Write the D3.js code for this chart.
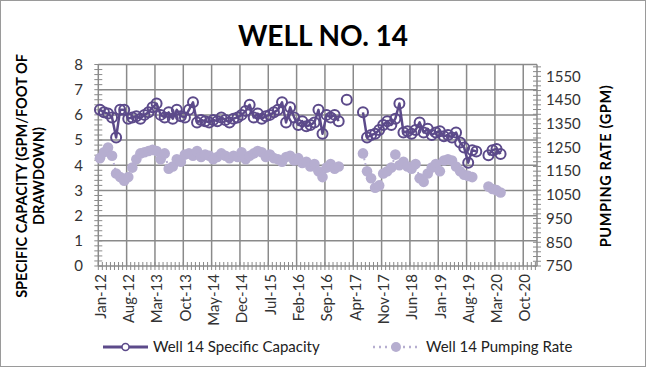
<!DOCTYPE html>
<html><head><meta charset="utf-8">
<script src="https://cdn.jsdelivr.net/npm/d3@7"></script>
<style>body{margin:0;background:#fff}svg{display:block}text{font-family:Lato,"Open Sans",sans-serif}</style>
</head><body><svg id="c" width="646" height="367"></svg>
<script>
// Month index (0 = Jan 2012) of each reading
const months = [0,1,2,3,4,5,6,7,8,9,10,11,12,13,14,15,16,17,18,19,20,21,22,23,24,25,26,27,28,29,30,31,32,33,34,35,36,37,38,39,40,41,42,43,44,45,46,47,48,49,50,51,52,53,54,55,56,57,58,59,60,61,62,63,64,65,66,67,68,69,70,71,72,73,74,75,76,77,78,79,80,81,82,83,84,85,86,87,88,89,90,91,92,93,94,95,96,97,98,99];
const specificCapacity = [6.2,6.1,6.05,5.9,5.1,6.2,6.2,5.85,5.9,5.95,5.85,6.0,6.1,6.3,6.45,6.0,5.9,6.1,5.85,6.2,5.95,5.9,6.2,6.5,5.7,5.8,5.75,5.7,5.8,5.75,5.9,5.8,5.7,5.85,5.9,6.0,6.15,6.4,5.9,6.05,5.85,5.95,6.0,6.1,6.2,6.5,5.7,6.3,5.9,5.6,5.75,5.55,5.6,5.7,6.2,5.25,6.0,5.9,6.0,5.75,null,6.6,null,null,null,6.1,5.1,5.2,5.25,5.4,5.6,5.75,5.6,5.85,6.45,5.3,5.35,5.25,5.4,5.7,5.3,5.45,5.2,5.3,5.35,5.15,5.2,5.1,5.3,4.9,4.7,4.1,4.6,4.55,null,null,4.4,4.6,4.65,4.45];
const pumpingRate = [1205,1230,1250,1215,1140,1125,1110,1125,1165,1200,1225,1230,1235,1240,1235,1200,1225,1160,1170,1200,1190,1220,1225,1215,1235,1210,1220,1215,1200,1210,1225,1215,1205,1215,1210,1230,1200,1215,1225,1235,1230,1210,1220,1205,1200,1190,1210,1215,1195,1205,1185,1190,1170,1180,1150,1125,1165,1180,1160,1170,null,null,null,null,null,1225,1150,1120,1080,1090,1140,1150,1165,1220,1175,1190,1170,1160,1180,1120,1105,1140,1165,1180,1150,1195,1200,1195,1170,1150,1135,1130,1125,null,null,null,1085,1075,1070,1060];
const xTickMonths = [0,7,14,21,28,35,42,49,56,63,70,77,84,91,98,105];
const xTickLabels = ["Jan-12","Aug-12","Mar-13","Oct-13","May-14","Dec-14","Jul-15","Feb-16","Sep-16","Apr-17","Nov-17","Jun-18","Jan-19","Aug-19","Mar-20","Oct-20"];
const leftTicks = [0,1,2,3,4,5,6,7,8];
const rightTicks = [750,850,950,1050,1150,1250,1350,1450,1550];

const dark = "#5c4a8a", light = "#b6aed0", grid = "#8a8a8a";
const svg = d3.select("#c");
const L = 98.3, R = 537, T = 64.5, B = 266;
const x = d3.scaleLinear().domain([0, 108.4]).range([L, R]);
const y = d3.scaleLinear().domain([0, 8]).range([B, T]);
const y2 = d3.scaleLinear().domain([750, 1600]).range([B, T]);

svg.append("rect").attr("x",0.5).attr("y",0.5).attr("width",645).attr("height",366).attr("fill","#fff").attr("stroke","#9a9a9a");

svg.append("text").attr("x",323).attr("y",46).attr("text-anchor","middle").attr("font-size",28).attr("font-weight",700).attr("fill","#000").text("WELL NO. 14");

// gridlines
const g = svg.append("g");
g.selectAll(".hg").data(leftTicks.slice(1)).join("line").attr("x1",L).attr("x2",R).attr("y1",d=>y(d)).attr("y2",d=>y(d)).attr("stroke",grid).attr("stroke-width",1.5);
g.selectAll(".vg").data(xTickMonths.slice(1)).join("line").attr("x1",d=>x(d)).attr("x2",d=>x(d)).attr("y1",T).attr("y2",B).attr("stroke",grid).attr("stroke-width",1.5);

// axes
const axC = svg.append("g");
axC.append("line").attr("x1",L).attr("x2",L).attr("y1",T).attr("y2",B).attr("stroke",grid).attr("stroke-width",1.5);
axC.append("line").attr("x1",R).attr("x2",R).attr("y1",T).attr("y2",B).attr("stroke",grid).attr("stroke-width",1.5);
axC.append("line").attr("x1",L).attr("x2",R).attr("y1",B).attr("y2",B).attr("stroke",grid).attr("stroke-width",1.5);
axC.selectAll(".lt").data(d3.range(0,41).map(i=>i*0.2)).join("line").attr("x1",L-4).attr("x2",L+4).attr("y1",d=>y(d)).attr("y2",d=>y(d)).attr("stroke",grid).attr("stroke-width",1);
axC.selectAll(".rt").data(d3.range(0,43).map(i=>750+i*20)).join("line").attr("x1",R-4).attr("x2",R+4).attr("y1",d=>y2(d)).attr("y2",d=>y2(d)).attr("stroke",grid).attr("stroke-width",1);
axC.selectAll(".bt").data(d3.range(0,109)).join("line").attr("x1",d=>x(d)).attr("x2",d=>x(d)).attr("y1",B-4).attr("y2",B+4).attr("stroke",grid).attr("stroke-width",1);

svg.selectAll(".ll").data(leftTicks).join("text").attr("x",83).attr("y",d=>y(d)).attr("dy","0.35em").attr("text-anchor","end").attr("font-size",15).attr("fill","#333").text(d=>d);
svg.selectAll(".rl").data(rightTicks).join("text").attr("x",546).attr("y",d=>y2(d)).attr("dy","0.35em").attr("text-anchor","start").attr("font-size",15).attr("fill","#333").text(d=>d);
svg.selectAll(".xl").data(xTickMonths).join("text").attr("transform",(d)=>`translate(${x(d)+2},274) rotate(-90)`).attr("dy","0.35em").attr("text-anchor","end").attr("font-size",15).attr("fill","#333").text((d,i)=>xTickLabels[i]);

// axis titles
const lt = svg.append("text").attr("transform","translate(0,176) rotate(-90)").attr("text-anchor","middle").attr("font-size",14.5).attr("font-weight",700).attr("fill","#000");
lt.append("tspan").attr("x",0).attr("y",27).text("SPECIFIC CAPACITY (GPM/FOOT OF");
lt.append("tspan").attr("x",0).attr("y",44).text("DRAWDOWN)");
svg.append("text").attr("transform","translate(611,166) rotate(-90)").attr("text-anchor","middle").attr("font-size",14.5).attr("font-weight",700).attr("letter-spacing","0.6px").attr("fill","#000").text("PUMPING RATE (GPM)");

// series
const sc = months.map((m,i)=>({m, v: specificCapacity[i]}));
const pr = months.map((m,i)=>({m, v: pumpingRate[i]}));
const lineSC = d3.line().defined(d=>d.v!=null).x(d=>x(d.m+0.4)).y(d=>y(d.v));
const linePR = d3.line().defined(d=>d.v!=null).x(d=>x(d.m+0.4)).y(d=>y2(d.v));

svg.append("path").attr("d",linePR(pr)).attr("fill","none").attr("stroke",light).attr("stroke-width",2).attr("stroke-dasharray","2,3");
svg.selectAll(".pm").data(pr.filter(d=>d.v!=null)).join("circle").attr("cx",d=>x(d.m+0.4)).attr("cy",d=>y2(d.v)).attr("r",5.3).attr("fill",light);

svg.append("path").attr("d",lineSC(sc)).attr("fill","none").attr("stroke",dark).attr("stroke-width",2.5).attr("stroke-linejoin","round");
svg.selectAll(".sm").data(sc.filter(d=>d.v!=null)).join("circle").attr("cx",d=>x(d.m+0.4)).attr("cy",d=>y(d.v)).attr("r",5).attr("fill","none").attr("stroke",dark).attr("stroke-width",2);

// legend
const lg = svg.append("g");
lg.append("line").attr("x1",103).attr("x2",148).attr("y1",347).attr("y2",347).attr("stroke",dark).attr("stroke-width",3);
lg.append("circle").attr("cx",125.5).attr("cy",347).attr("r",3.5).attr("fill","#fff").attr("stroke",dark).attr("stroke-width",1.5);
lg.append("text").attr("x",153).attr("y",347).attr("dy","0.35em").attr("font-size",15).attr("fill","#222").text("Well 14 Specific Capacity");
lg.append("line").attr("x1",373).attr("x2",419).attr("y1",347).attr("y2",347).attr("stroke",light).attr("stroke-width",2.5).attr("stroke-dasharray","2,4");
lg.append("circle").attr("cx",396).attr("cy",347).attr("r",5).attr("fill",light);
lg.append("text").attr("x",426).attr("y",347).attr("dy","0.35em").attr("font-size",15).attr("fill","#222").text("Well 14 Pumping Rate");
</script></body></html>
